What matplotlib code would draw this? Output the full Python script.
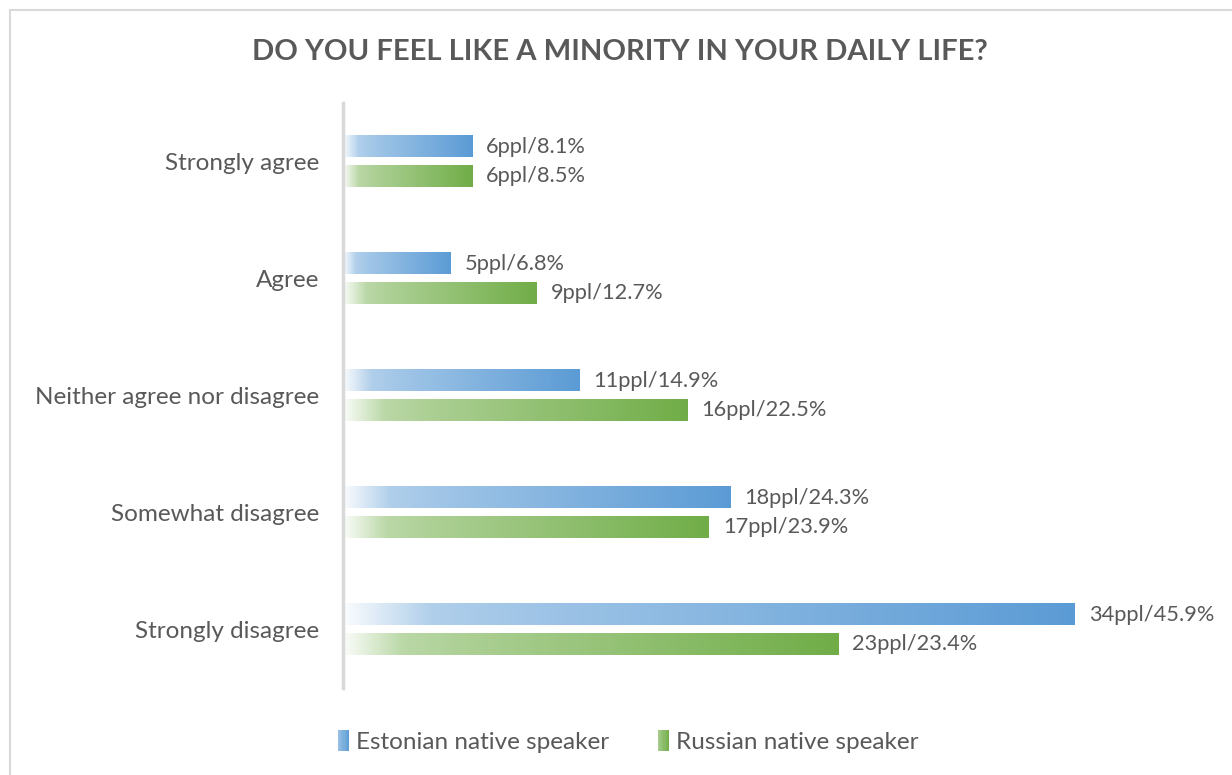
import matplotlib
matplotlib.use('Agg')

import numpy as np
import matplotlib.pyplot as plt
from matplotlib.colors import LinearSegmentedColormap, to_rgb
from matplotlib.patches import Rectangle
from matplotlib.lines import Line2D
from matplotlib.legend_handler import HandlerBase

# Dotazník: pocit menšiny v každodenním životě
categories = ["Strongly agree", "Agree", "Neither agree nor disagree",
              "Somewhat disagree", "Strongly disagree"]
est_people = [6, 5, 11, 18, 34]
est_pct = [8.1, 6.8, 14.9, 24.3, 45.9]
rus_people = [6, 9, 16, 17, 23]
rus_pct = [8.5, 12.7, 22.5, 23.9, 23.4]
series_names = ["Estonian native speaker", "Russian native speaker"]

BLUE = "#5B9BD5"
GREEN = "#70AD47"
TEXT = "#595959"

plt.rcParams['font.family'] = ['Lato', 'DejaVu Sans']


def gradient_cmap(color):
    # přechod z bílé do plné barvy
    c = np.array(to_rgb(color))
    w = np.ones(3)
    stops = [(0.0, w * 0.97 + c * 0.03),
             (0.12, w * 0.52 + c * 0.48),
             (0.25, w * 0.42 + c * 0.58),
             (1.0, c)]
    return LinearSegmentedColormap.from_list("g", [(p, tuple(col)) for p, col in stops])


cmaps = [gradient_cmap(BLUE), gradient_cmap(GREEN)]


class GradientHandler(HandlerBase):
    def __init__(self, cmap):
        super().__init__()
        self.cmap = cmap

    def create_artists(self, legend, orig_handle, xdescent, ydescent,
                       width, height, fontsize, trans):
        n = 10
        w = width / n
        out = []
        for i in range(n):
            r = Rectangle((-xdescent + i * w, -ydescent - 1), w * 1.05, height + 2,
                          facecolor=self.cmap(0.3 + 0.7 * (i + 0.5) / n), edgecolor='none',
                          transform=trans)
            out.append(r)
        return out


fig = plt.figure(figsize=(12.32, 7.75), dpi=100)
ax = fig.add_axes([343 / 1232, 1 - 688 / 775, (1204 - 343) / 1232, (688 - 103) / 775])

y = np.arange(len(categories))
h = 0.18
off = 0.128

for vals, pcts, sign, cmap in [(est_people, est_pct, -1, cmaps[0]),
                               (rus_people, rus_pct, 1, cmaps[1])]:
    bars = ax.barh(y + sign * off, vals, height=h, color='none', edgecolor='none')
    grad = np.linspace(0, 1, 256).reshape(1, -1)
    for b, v, p in zip(bars, vals, pcts):
        x0, y0, bw, bh = b.get_x(), b.get_y(), b.get_width(), b.get_height()
        ax.imshow(grad, cmap=cmap, aspect='auto', extent=[x0, x0 + bw, y0 + bh, y0],
                  interpolation='bilinear', zorder=2)
        ax.annotate(f"{v}ppl/{p}%", xy=(x0 + bw, y0 + bh / 2), xytext=(10, 0),
                    textcoords='offset points', va='center', ha='left',
                    fontsize=15.7, color=TEXT)

ax.set_xlim(0, 40)
ax.set_ylim(len(categories) - 0.5, -0.5)
ax.set_yticks(y)
ax.set_yticklabels(categories, fontsize=17.5, color=TEXT)
ax.tick_params(axis='y', length=0, pad=17)
ax.set_xticks([])
for s in ['top', 'right', 'bottom']:
    ax.spines[s].set_visible(False)
ax.spines['left'].set_color('#D9D9D9')
ax.spines['left'].set_linewidth(2.5)

fig.text(0.503, 1 - 52 / 775, "DO YOU FEEL LIKE A MINORITY IN YOUR DAILY LIFE?",
         ha='center', va='center', fontsize=21, fontweight='bold', color=TEXT)

# rámeček grafu
fig.add_artist(Line2D([10 / 1232, 10 / 1232], [0, 1 - 10 / 775], transform=fig.transFigure,
                      color='#D9D9D9', lw=1.5))
fig.add_artist(Line2D([10 / 1232, 1], [1 - 10 / 775, 1 - 10 / 775], transform=fig.transFigure,
                      color='#D9D9D9', lw=1.5))

handles = [Rectangle((0, 0), 1, 1), Rectangle((0, 0), 1, 1)]
leg = fig.legend(handles, series_names, loc='center', bbox_to_anchor=(0.51, 1 - 742 / 775),
                 ncol=2, frameon=False, fontsize=17.5, labelcolor=TEXT,
                 handlelength=0.45, handleheight=0.8, handletextpad=0.3, columnspacing=2.0,
                 handler_map={handles[0]: GradientHandler(cmaps[0]),
                              handles[1]: GradientHandler(cmaps[1])})

fig.savefig("out.png", dpi=100)
